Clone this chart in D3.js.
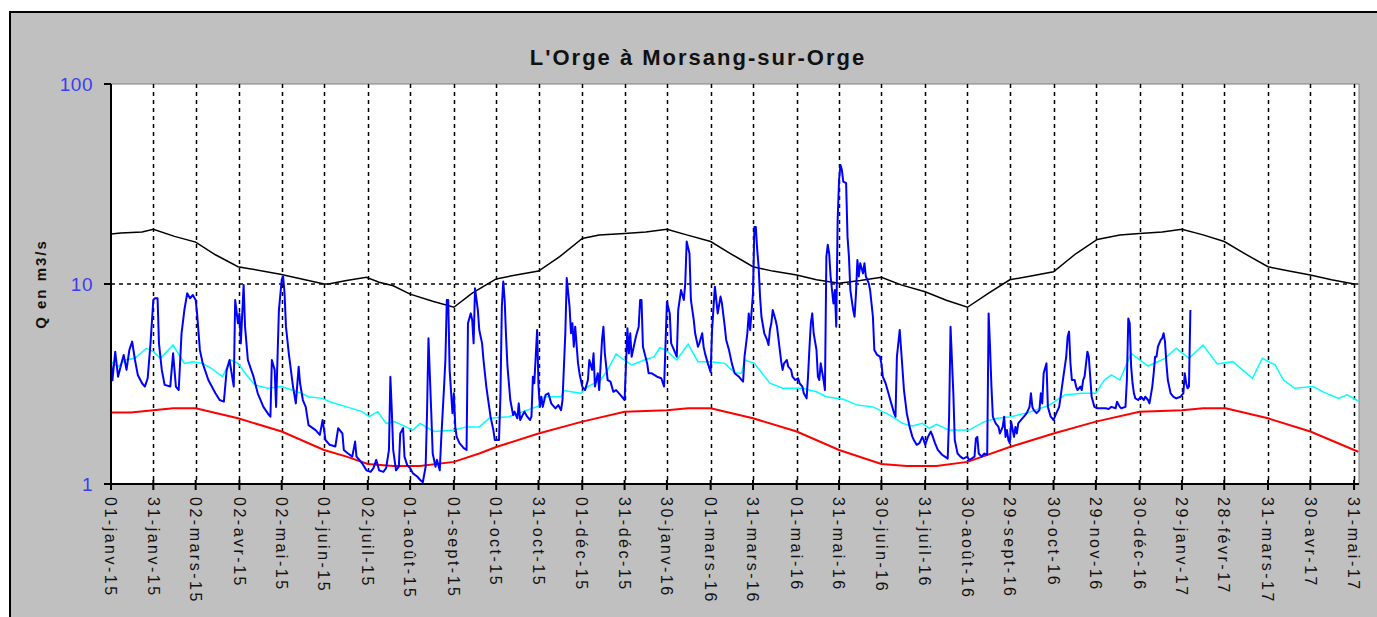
<!DOCTYPE html>
<html lang="fr">
<head>
<meta charset="utf-8">
<title>L'Orge à Morsang-sur-Orge</title>
<script src="https://cdn.jsdelivr.net/npm/d3@7"></script>
<style>
  body { margin: 0; background: #fff; }
  svg { display: block; font-family: "Liberation Sans", Arial, sans-serif; }
</style>
</head>
<body>
<svg id="chart" width="1377" height="617"></svg>
<script>
"use strict";
/*global d3:false */

var titre = "L'Orge à Morsang-sur-Orge";
var titreAxeY = "Q en m3/s";

var datesGraduations = [
  "2015-01-01", "2015-01-31", "2015-03-02", "2015-04-02", "2015-05-02", "2015-06-01",
  "2015-07-02", "2015-08-01", "2015-09-01", "2015-10-01", "2015-10-31", "2015-12-01",
  "2015-12-31", "2016-01-30", "2016-03-01", "2016-03-31", "2016-05-01", "2016-05-31",
  "2016-06-30", "2016-07-31", "2016-08-30", "2016-09-29", "2016-10-30", "2016-11-29",
  "2016-12-30", "2017-01-29", "2017-02-28", "2017-03-31", "2017-04-30", "2017-05-31"
];
var graduationsY = [1, 10, 100];
var moisCourts = ["janv", "févr", "mars", "avr", "mai", "juin", "juil", "août", "sept", "oct", "nov", "déc"];

// débit journalier : [jours depuis le 01/01/2015, m3/s]
var debitJournalier = [
  [0,4.1],[1,3.3],[3,4.59],[5,3.44],[8,4.17],[9,4.42],[11,3.72],[13,4.68],[15,5.15],[17,4.17],[19,3.51],[22,3.19],
  [24,3.07],[26,3.38],[28,5.05],[30,8.32],[31,8.48],[33,8.48],[34,5.05],[36,3.72],[38,3.13],[42,3.07],[43,3.72],
  [44,4.5],[46,3.07],[48,2.95],[50,5.67],[52,7.41],[54,8.98],[56,8.48],[58,8.81],[60,8.32],[61,7.13],[63,4.68],
  [65,4.01],[69,3.31],[74,2.84],[77,2.63],[80,2.58],[82,3.72],[84,4.17],[87,3.07],[88,8.32],[90,6.36],[91,7.13],
  [92,5.05],[94,9.89],[95,6.12],[97,4.17],[101,3.44],[104,2.84],[108,2.43],[112,2.21],[113,2.17],[114,4.17],
  [116,3.72],[117,2.43],[119,7.41],[121,10.5],[122,10.9],[123,8.98],[124,6.12],[126,4.5],[129,3.07],[131,2.53],
  [133,3.86],[134,3.19],[136,2.63],[138,2.43],[140,1.97],[145,1.86],[148,1.76],[150,2.09],[152,1.66],[155,1.57],
  [159,1.54],[161,1.9],[164,1.79],[165,1.48],[168,1.42],[171,1.37],[173,1.63],[174,1.37],[178,1.27],[181,1.17],
  [184,1.15],[186,1.2],[188,1.32],[190,1.17],[193,1.15],[195,1.2],[197,1.48],[198,3.44],[199,2.34],[200,1.48],
  [202,1.17],[204,1.22],[205,1.79],[207,1.9],[208,1.37],[210,1.24],[212,1.2],[214,1.13],[217,1.09],[219,1.05],
  [221,1.02],[223,1.22],[224,2.3],[225,5.35],[227,2.26],[228,1.42],[230,1.22],[231,1.32],[233,1.17],[234,1.66],
  [236,3.01],[237,4.17],[238,8.32],[239,8.32],[240,3.72],[242,2.26],[243,2.84],[244,1.93],[245,1.72],[247,1.6],
  [250,1.51],[252,1.48],[253,6.36],[255,7.13],[256,6.61],[257,5.05],[258,9.51],[260,7.41],[261,5.89],[263,5.05],
  [264,4.17],[266,3.07],[267,2.73],[269,2.17],[271,1.86],[272,1.66],[275,1.66],[276,2.73],[277,7.7],[278,10.3],
  [279,8.32],[280,5.45],[281,3.86],[283,2.63],[285,2.21],[286,2.3],[288,2.13],[289,2.53],[290,2.09],[293,2.3],
  [295,2.17],[297,2.09],[298,2.17],[299,3.44],[300,3.19],[302,5.89],[303,3.07],[304,2.43],[305,2.73],[306,2.43],
  [308,2.79],[310,2.84],[312,2.53],[313,2.48],[315,2.39],[317,2.48],[319,2.34],[320,2.63],[322,5.67],[323,10.7],
  [325,7.7],[326,5.67],[327,6.36],[328,4.86],[329,6.12],[331,4.01],[332,3.58],[334,3.07],[336,2.95],[338,3.31],
  [339,4.17],[341,3.72],[342,4.5],[343,3.07],[345,3.58],[346,2.95],[348,5.25],[349,6.12],[350,4.5],[352,3.31],
  [354,3.25],[356,2.89],[358,2.95],[361,2.79],[364,2.63],[366,6.0],[367,4.5],[368,5.67],[369,4.33],[371,5.05],
  [372,5.45],[374,6.12],[375,8.32],[376,8.32],[377,4.86],[380,4.01],[381,3.58],[383,3.58],[385,3.51],[387,3.44],
  [390,3.38],[392,3.07],[394,8.16],[396,7.13],[397,5.05],[399,4.68],[401,4.33],[402,7.41],[404,9.33],[406,8.32],
  [407,10.1],[408,16.3],[410,14.2],[411,8.32],[413,6.61],[414,5.67],[416,4.86],[417,5.05],[419,5.67],[420,4.86],
  [421,4.5],[423,4.01],[425,3.62],[426,5.89],[428,9.7],[429,8.32],[430,7.13],[432,8.65],[433,8.0],[435,6.12],
  [436,5.25],[438,4.68],[440,4.01],[442,3.58],[445,3.44],[447,3.31],[448,3.25],[449,4.33],[451,5.67],[452,7.13],
  [453,5.89],[455,8.98],[456,19.3],[457,19.3],[458,14.8],[459,12.2],[460,8.65],[461,6.86],[463,5.67],[465,5.25],
  [466,4.95],[467,5.89],[468,6.36],[469,7.41],[471,6.61],[472,6.12],[474,4.68],[475,4.09],[476,3.72],[477,4.01],
  [479,4.17],[480,3.86],[482,3.72],[483,3.44],[485,3.31],[487,3.38],[488,3.19],[490,3.07],[491,2.84],[493,2.68],
  [494,3.44],[495,4.77],[496,6.36],[497,7.13],[498,5.67],[500,4.68],[501,3.44],[502,3.31],[503,4.01],[505,3.31],
  [506,2.95],[507,13.7],[508,15.7],[509,14.2],[510,10.9],[512,8.0],[513,9.33],[514,6.12],[515,20.9],[516,33.1],
  [517,39.4],[518,37.2],[519,32.5],[521,31.9],[522,17.2],[523,13.7],[524,9.33],[526,7.41],[527,6.86],[528,8.98],
  [529,13.2],[530,10.9],[531,12.7],[533,11.3],[534,12.7],[535,10.9],[537,10.1],[538,9.33],[540,6.86],[541,4.68],
  [543,4.42],[545,4.33],[546,4.01],[547,3.44],[549,3.19],[551,2.84],[553,2.53],[555,2.26],[556,2.17],[557,4.33],
  [559,5.89],[560,4.68],[562,2.95],[564,2.26],[566,1.93],[568,1.72],[569,1.66],[571,1.57],[573,1.6],[575,1.72],
  [576,1.66],[577,1.57],[579,1.72],[581,1.83],[582,1.76],[584,1.6],[586,1.48],[589,1.4],[591,1.37],[593,1.34],
  [594,2.17],[595,6.12],[597,2.84],[598,1.66],[600,1.42],[602,1.37],[604,1.34],[607,1.37],[608,1.32],[610,1.34],
  [612,1.37],[613,1.69],[614,1.72],[615,1.42],[617,1.37],[619,1.42],[621,1.4],[622,7.13],[623,4.86],[624,3.07],
  [625,2.17],[627,2.01],[629,1.93],[630,1.79],[632,1.93],[633,2.17],[634,1.72],[635,1.86],[636,1.66],[637,1.6],
  [638,2.05],[640,1.72],[641,1.93],[642,1.79],[643,2.01],[645,2.09],[647,2.17],[649,2.26],[651,2.43],[652,2.84],
  [653,2.43],[654,2.34],[656,2.26],[658,2.34],[659,2.84],[660,2.53],[661,3.58],[663,4.01],[664,2.43],[666,2.17],
  [668,2.09],[670,2.26],[672,2.43],[673,2.73],[675,3.44],[677,4.33],[678,5.45],[679,5.78],[680,4.01],[681,3.31],
  [683,3.31],[684,3.07],[685,2.95],[687,3.07],[688,2.95],[689,3.31],[690,3.44],[692,4.59],[693,4.33],[694,3.44],
  [695,2.73],[697,2.43],[699,2.39],[702,2.39],[705,2.39],[707,2.37],[709,2.43],[712,2.39],[713,2.58],[715,2.43],
  [716,2.39],[719,2.43],[720,3.31],[721,6.73],[722,6.36],[723,3.86],[724,3.19],[725,2.84],[726,2.68],[728,2.63],
  [730,2.73],[732,2.63],[733,2.73],[735,2.63],[736,2.53],[738,3.07],[739,3.58],[740,4.33],[741,4.33],[742,4.86],
  [744,5.25],[745,5.35],[746,5.67],[747,5.15],[748,4.01],[749,3.31],[751,2.84],[753,2.73],[755,2.68],[758,2.73],
  [759,2.79],[760,2.84],[761,3.58],[762,3.19],[763,3.01],[764,3.07],[765,7.41]
];

// courbe haute (noir)
var courbeHaute = [
  ["2015-01-01",17.8],["2015-01-08",18.0],["2015-01-23",18.2],["2015-01-31",18.8],["2015-02-15",17.3],
  ["2015-03-02",16.2],["2015-03-16",14.0],["2015-04-01",12.2],["2015-04-07",12.0],["2015-05-01",11.2],
  ["2015-06-01",10.0],["2015-06-04",10.0],["2015-06-17",10.4],["2015-07-01",10.8],["2015-07-10",10.2],
  ["2015-07-20",9.8],["2015-08-01",8.9],["2015-08-17",8.2],["2015-09-01",7.65],["2015-09-14",9.0],
  ["2015-10-01",10.6],["2015-10-15",11.1],["2015-10-31",11.6],["2015-11-15",13.7],["2015-12-01",16.9],
  ["2015-12-13",17.6],["2015-12-31",17.9],["2016-01-15",18.2],["2016-01-30",18.8],["2016-02-13",17.6],
  ["2016-03-01",16.3],["2016-03-15",14.2],["2016-03-31",12.2],["2016-04-14",11.6],["2016-05-01",11.1],
  ["2016-05-15",10.5],["2016-05-31",10.1],["2016-06-15",10.4],["2016-06-30",10.8],["2016-07-14",9.9],
  ["2016-07-31",9.15],["2016-08-15",8.3],["2016-08-30",7.65],["2016-09-14",9.0],["2016-09-29",10.5],
  ["2016-10-15",11.0],["2016-10-30",11.5],["2016-11-15",14.2],["2016-11-30",16.7],["2016-12-16",17.6],
  ["2016-12-30",17.9],["2017-01-15",18.2],["2017-01-29",18.8],["2017-02-13",17.6],["2017-02-28",16.3],
  ["2017-03-16",14.0],["2017-03-31",12.2],["2017-04-15",11.6],["2017-04-30",11.1],["2017-05-15",10.5],
  ["2017-05-31",10.0],["2017-06-03",10.0]
];

// courbe médiane (cyan)
var courbeMediane = [
  ["2015-01-01",4.09],["2015-01-06",3.86],["2015-01-11",4.17],["2015-01-18",4.25],["2015-01-26",4.77],
  ["2015-01-31",4.59],["2015-02-05",4.25],["2015-02-14",4.95],["2015-02-22",4.01],["2015-02-28",4.09],
  ["2015-03-07",4.01],["2015-03-13",3.79],["2015-03-21",3.44],["2015-03-27",4.17],["2015-04-01",4.01],
  ["2015-04-07",3.51],["2015-04-13",3.13],["2015-04-22",3.01],["2015-05-02",3.07],["2015-05-09",2.95],
  ["2015-05-16",2.84],["2015-05-21",2.73],["2015-05-31",2.68],["2015-06-05",2.58],["2015-06-17",2.43],
  ["2015-06-28",2.3],["2015-07-03",2.17],["2015-07-09",2.3],["2015-07-15",2.01],["2015-07-21",2.05],
  ["2015-07-29",1.93],["2015-08-03",1.86],["2015-08-08",2.01],["2015-08-18",1.83],["2015-09-01",1.86],
  ["2015-09-10",1.93],["2015-09-19",1.93],["2015-09-26",2.13],["2015-10-10",2.17],["2015-10-20",2.3],
  ["2015-10-31",2.45],["2015-11-04",2.73],["2015-11-16",2.73],["2015-11-18",2.93],["2015-11-30",2.84],
  ["2015-12-05",3.07],["2015-12-14",3.31],["2015-12-19",3.72],["2015-12-25",4.47],["2015-12-29",4.25],
  ["2016-01-05",3.94],["2016-01-14",4.17],["2016-01-21",4.33],["2016-01-25",4.8],["2016-01-29",4.68],
  ["2016-02-06",4.17],["2016-02-14",5.01],["2016-02-21",4.09],["2016-03-01",4.09],["2016-03-11",4.01],
  ["2016-03-18",3.6],["2016-03-23",3.58],["2016-03-25",4.17],["2016-04-01",4.01],["2016-04-12",3.19],
  ["2016-04-21",3.01],["2016-05-05",3.01],["2016-05-15",2.89],["2016-05-22",2.73],["2016-06-03",2.65],
  ["2016-06-13",2.48],["2016-06-24",2.43],["2016-07-06",2.21],["2016-07-15",2.01],["2016-07-22",1.95],
  ["2016-07-29",2.01],["2016-08-03",1.9],["2016-08-08",1.99],["2016-08-17",1.86],["2016-08-31",1.86],
  ["2016-09-11",2.05],["2016-09-20",2.13],["2016-09-30",2.17],["2016-10-14",2.3],["2016-10-26",2.46],
  ["2016-11-07",2.79],["2016-11-19",2.84],["2016-11-29",2.84],["2016-12-05",3.31],["2016-12-10",3.51],
  ["2016-12-16",3.31],["2016-12-24",4.5],["2017-01-05",3.89],["2017-01-17",4.25],["2017-01-25",4.77],
  ["2017-02-03",4.25],["2017-02-13",4.95],["2017-02-23",3.98],["2017-03-06",4.09],["2017-03-20",3.38],
  ["2017-03-27",4.25],["2017-04-05",3.94],["2017-04-11",3.31],["2017-04-19",3.01],["2017-05-02",3.07],
  ["2017-05-09",2.89],["2017-05-20",2.68],["2017-05-26",2.79],["2017-06-03",2.6]
];

// courbe basse (rouge)
var courbeBasse = [
  ["2015-01-01",2.28],["2015-01-15",2.28],["2015-01-31",2.34],["2015-02-14",2.39],["2015-03-02",2.39],
  ["2015-04-01",2.13],["2015-05-02",1.83],["2015-06-01",1.48],["2015-06-17",1.37],["2015-07-02",1.26],
  ["2015-07-20",1.23],["2015-08-08",1.23],["2015-09-01",1.29],["2015-09-19",1.42],["2015-10-01",1.53],
  ["2015-10-31",1.79],["2015-12-01",2.05],["2015-12-31",2.3],["2016-01-30",2.34],["2016-02-14",2.39],
  ["2016-03-01",2.39],["2016-03-31",2.13],["2016-05-01",1.83],["2016-05-31",1.48],["2016-06-30",1.26],
  ["2016-07-18",1.23],["2016-08-08",1.23],["2016-08-30",1.29],["2016-09-29",1.53],["2016-10-30",1.79],
  ["2016-11-29",2.05],["2016-12-30",2.3],["2017-01-29",2.34],["2017-02-13",2.39],["2017-03-01",2.39],
  ["2017-03-31",2.13],["2017-04-30",1.83],["2017-06-03",1.45]
];

var parseDate = d3.timeParse("%Y-%m-%d");
var debut = parseDate("2015-01-01");

var locale = d3.timeFormatLocale({
  dateTime: "%A %e %B %Y à %X", date: "%d/%m/%Y", time: "%H:%M:%S", periods: ["AM", "PM"],
  days: ["dimanche", "lundi", "mardi", "mercredi", "jeudi", "vendredi", "samedi"],
  shortDays: ["dim", "lun", "mar", "mer", "jeu", "ven", "sam"],
  months: ["janvier", "février", "mars", "avril", "mai", "juin", "juillet", "août", "septembre", "octobre", "novembre", "décembre"],
  shortMonths: moisCourts
});
var formatDate = locale.format("%d-%b-%y");

var plot = { left: 111, right: 1359, top: 84, bottom: 484 };

var x = d3.scaleTime()
  .domain([debut, new Date(2017, 5, 3, 12)])
  .range([plot.left, plot.right]);

var y = d3.scaleLog()
  .domain([1, 100])
  .range([plot.bottom, plot.top]);

var svg = d3.select("#chart");

// fond gris et cadre
svg.append("rect")
  .attr("x", 10).attr("y", 12)
  .attr("width", 1400).attr("height", 700)
  .attr("fill", "#c0c0c0")
  .attr("stroke", "#000").attr("stroke-width", 2);

svg.append("rect")
  .attr("x", plot.left).attr("y", plot.top)
  .attr("width", plot.right - plot.left).attr("height", plot.bottom - plot.top)
  .attr("fill", "#fff")
  .attr("stroke", "#808080").attr("stroke-width", 1);

var ticks = datesGraduations.map(parseDate);

// quadrillage
svg.append("g")
  .selectAll("line")
  .data(ticks.slice(1))
  .enter()
  .append("line")
  .attr("x1", function (d) { return Math.round(x(d)) + 0.5; })
  .attr("x2", function (d) { return Math.round(x(d)) + 0.5; })
  .attr("y1", plot.top).attr("y2", plot.bottom)
  .attr("stroke", "#000").attr("stroke-width", 1.5)
  .attr("stroke-dasharray", "4,4");

svg.append("line")
  .attr("x1", plot.left).attr("x2", plot.right)
  .attr("y1", y(10)).attr("y2", y(10))
  .attr("stroke", "#000").attr("stroke-width", 1.5)
  .attr("stroke-dasharray", "4,4");

function ligne(serie) {
  return d3.line()
    .x(function (d) { return x(parseDate(d[0])); })
    .y(function (d) { return y(d[1]); })(serie);
}

svg.append("path").attr("d", ligne(courbeHaute))
  .attr("fill", "none").attr("stroke", "#000").attr("stroke-width", 1.5);
svg.append("path").attr("d", ligne(courbeMediane))
  .attr("fill", "none").attr("stroke", "#00ffff").attr("stroke-width", 1.5);
svg.append("path").attr("d", ligne(courbeBasse))
  .attr("fill", "none").attr("stroke", "#ff0000").attr("stroke-width", 2);

var ligneDebit = d3.line()
  .x(function (d) { return x(d3.timeDay.offset(debut, d[0])); })
  .y(function (d) { return y(d[1]); });

svg.append("path").attr("d", ligneDebit(debitJournalier))
  .attr("fill", "none").attr("stroke", "#0000ff").attr("stroke-width", 2)
  .attr("stroke-linejoin", "round");

// axes
svg.append("line")
  .attr("x1", plot.left).attr("x2", plot.left)
  .attr("y1", plot.top).attr("y2", plot.bottom + 1)
  .attr("stroke", "#000").attr("stroke-width", 2);
svg.append("line")
  .attr("x1", plot.left).attr("x2", plot.right)
  .attr("y1", plot.bottom).attr("y2", plot.bottom)
  .attr("stroke", "#000").attr("stroke-width", 2);

var axeY = svg.append("g");
axeY.selectAll("line")
  .data(graduationsY)
  .enter()
  .append("line")
  .attr("x1", plot.left - 7).attr("x2", plot.left)
  .attr("y1", function (d) { return y(d); })
  .attr("y2", function (d) { return y(d); })
  .attr("stroke", "#000").attr("stroke-width", 2);
axeY.selectAll("text")
  .data(graduationsY)
  .enter()
  .append("text")
  .attr("x", 93)
  .attr("y", function (d) { return y(d); })
  .attr("dy", "0.36em")
  .attr("text-anchor", "end")
  .attr("fill", "#3c3cf0")
  .style("font-size", "19px")
  .style("letter-spacing", "0.5px")
  .text(function (d) { return d; });

var axeX = svg.append("g");
axeX.selectAll("line")
  .data(ticks)
  .enter()
  .append("line")
  .attr("x1", function (d) { return x(d); })
  .attr("x2", function (d) { return x(d); })
  .attr("y1", plot.bottom - 4).attr("y2", plot.bottom + 6)
  .attr("stroke", "#000").attr("stroke-width", 2);
axeX.selectAll("text")
  .data(ticks)
  .enter()
  .append("text")
  .attr("transform", function (d) { return "translate(" + x(d) + "," + 497 + ") rotate(90)"; })
  .attr("dy", "0.36em")
  .attr("text-anchor", "start")
  .attr("fill", "#111")
  .style("font-size", "16px")
  .style("letter-spacing", "2.5px")
  .text(function (d) { return formatDate(d); });

svg.append("text")
  .attr("x", 698).attr("y", 65)
  .attr("text-anchor", "middle")
  .style("font-size", "22px")
  .style("font-weight", "bold")
  .style("letter-spacing", "2px")
  .attr("fill", "#111")
  .text(titre);

svg.append("text")
  .attr("transform", "translate(41,284) rotate(-90)")
  .attr("dy", "0.36em")
  .attr("text-anchor", "middle")
  .style("font-size", "15px")
  .style("font-weight", "bold")
  .style("letter-spacing", "2px")
  .attr("fill", "#111")
  .text(titreAxeY);
</script>
</body>
</html>
